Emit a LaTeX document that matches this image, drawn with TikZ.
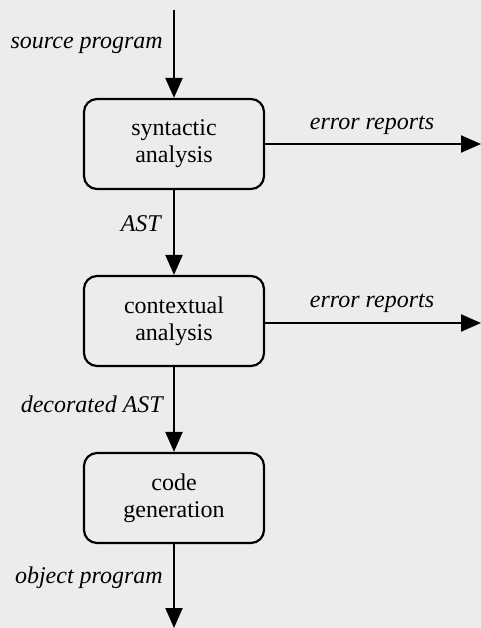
\documentclass[tikz,border=0pt]{standalone}
\usepackage{fontspec}
\setmainfont{Liberation Serif}
\usetikzlibrary{arrows.meta}
\definecolor{paper}{RGB}{236,236,236}
\begin{document}
\begin{tikzpicture}[x={(1pt,0)},y={(0,-1pt)},
  phase/.style={draw,line width=2.2pt,rounded corners=13pt,minimum width=180pt,minimum height=90pt,align=center,inner sep=0pt,
    font=\fontsize{24}{27}\selectfont},
  lbl/.style={font=\fontsize{24}{28}\selectfont\itshape,inner sep=0pt},
  flow/.style={line width=2.2pt,-{Triangle[length=20pt,width=17pt]}}]
\fill[paper] (0,0) rectangle (481,628);
\useasboundingbox (0,0) rectangle (481,628);
\node[phase] (syn) at (174,144) {syntactic\\analysis};
\node[phase] (ctx) at (174,321) {contextual\\analysis};
\node[phase] (gen) at (174,498) {code\\generation};
\coordinate (top) at (174,10);
\coordinate (bot) at (174,628);
\coordinate (e1) at (481,144);
\coordinate (e2) at (481,323);
\draw[flow] (top) -- (syn);
\draw[flow] (syn) -- (ctx);
\draw[flow] (ctx) -- (gen);
\draw[flow] (gen) -- (bot);
\draw[flow] (syn.east |- e1) -- (e1);
\draw[flow] (ctx.east |- e2) -- (e2);
\node[lbl,anchor=east] (l1) at (163,45) {source program};
\node[lbl] (l2) at (372,125) {error reports};
\node[lbl,anchor=east] (l3) at (161,224) {AST};
\node[lbl] (l4) at (372,303) {error reports};
\node[lbl,anchor=east] (l5) at (163,404) {decorated AST};
\node[lbl,anchor=east] (l6) at (163,578) {object program};
\end{tikzpicture}
\end{document}
